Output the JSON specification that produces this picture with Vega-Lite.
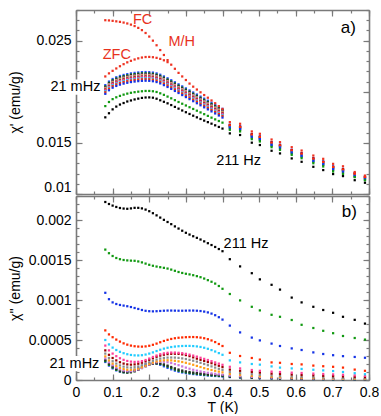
{
"$schema":"https://vega.github.io/schema/vega-lite/v6.json",
"background":"white",
"padding":{"left":8,"top":9,"right":0,"bottom":0},
"spacing":0,
"config":{"view":{"stroke":null},"font":"Liberation Sans",
"axis":{"grid":false,"domainColor":"#7a7a7a","domainWidth":1.6,"tickColor":"#7a7a7a","tickWidth":1.2,"labelFont":"Liberation Sans","labelFontSize":14,"labelColor":"#000","labelFlush":false,"labelOverlap":false,"titleFont":"Liberation Sans","titleFontSize":14,"titleFontWeight":"normal","titleColor":"#000"},
"text":{"font":"Liberation Sans"}},
"datasets":{
"A":[
{"T":0.08,"c1":0.01750,"c2":0.01860,"c3":0.01980,"c4":0.01995,"c5":0.02005,"c6":0.02015,"c7":0.02020,"c8":0.02027,"c9":0.02032,"c10":0.02038,"c11":0.02045,"c12":0.02053,"c13":0.02065,"fc":0.02700,"zfc":0.02150},
{"T":0.09,"c1":0.01790,"c2":0.01900,"c3":0.02015,"c4":0.02030,"c5":0.02040,"c6":0.02050,"c7":0.02055,"c8":0.02062,"c9":0.02067,"c10":0.02073,"c11":0.02080,"c12":0.02088,"c13":0.02100,"fc":0.02698,"zfc":0.02180},
{"T":0.10,"c1":0.01828,"c2":0.01928,"c3":0.02040,"c4":0.02055,"c5":0.02065,"c6":0.02075,"c7":0.02080,"c8":0.02087,"c9":0.02092,"c10":0.02098,"c11":0.02105,"c12":0.02113,"c13":0.02125,"fc":0.02694,"zfc":0.02205},
{"T":0.11,"c1":0.01855,"c2":0.01946,"c3":0.02057,"c4":0.02072,"c5":0.02082,"c6":0.02092,"c7":0.02097,"c8":0.02104,"c9":0.02109,"c10":0.02115,"c11":0.02122,"c12":0.02130,"c13":0.02142,"fc":0.02689,"zfc":0.02228},
{"T":0.12,"c1":0.01875,"c2":0.01960,"c3":0.02070,"c4":0.02085,"c5":0.02095,"c6":0.02105,"c7":0.02110,"c8":0.02117,"c9":0.02122,"c10":0.02128,"c11":0.02135,"c12":0.02143,"c13":0.02155,"fc":0.02684,"zfc":0.02250},
{"T":0.13,"c1":0.01890,"c2":0.01972,"c3":0.02080,"c4":0.02095,"c5":0.02105,"c6":0.02115,"c7":0.02120,"c8":0.02127,"c9":0.02132,"c10":0.02138,"c11":0.02145,"c12":0.02153,"c13":0.02165,"fc":0.02677,"zfc":0.02270},
{"T":0.14,"c1":0.01905,"c2":0.01982,"c3":0.02088,"c4":0.02103,"c5":0.02113,"c6":0.02123,"c7":0.02128,"c8":0.02135,"c9":0.02140,"c10":0.02146,"c11":0.02153,"c12":0.02161,"c13":0.02173,"fc":0.02668,"zfc":0.02288},
{"T":0.15,"c1":0.01915,"c2":0.01990,"c3":0.02095,"c4":0.02110,"c5":0.02120,"c6":0.02130,"c7":0.02135,"c8":0.02142,"c9":0.02147,"c10":0.02153,"c11":0.02160,"c12":0.02168,"c13":0.02180,"fc":0.02657,"zfc":0.02303},
{"T":0.16,"c1":0.01925,"c2":0.01996,"c3":0.02100,"c4":0.02115,"c5":0.02125,"c6":0.02135,"c7":0.02140,"c8":0.02147,"c9":0.02152,"c10":0.02158,"c11":0.02165,"c12":0.02173,"c13":0.02185,"fc":0.02643,"zfc":0.02316},
{"T":0.17,"c1":0.01933,"c2":0.02001,"c3":0.02104,"c4":0.02119,"c5":0.02129,"c6":0.02139,"c7":0.02144,"c8":0.02151,"c9":0.02156,"c10":0.02162,"c11":0.02169,"c12":0.02177,"c13":0.02189,"fc":0.02625,"zfc":0.02327},
{"T":0.18,"c1":0.01940,"c2":0.02005,"c3":0.02107,"c4":0.02122,"c5":0.02132,"c6":0.02142,"c7":0.02147,"c8":0.02154,"c9":0.02159,"c10":0.02165,"c11":0.02172,"c12":0.02180,"c13":0.02192,"fc":0.02603,"zfc":0.02335},
{"T":0.19,"c1":0.01944,"c2":0.02008,"c3":0.02108,"c4":0.02123,"c5":0.02133,"c6":0.02143,"c7":0.02148,"c8":0.02155,"c9":0.02160,"c10":0.02166,"c11":0.02173,"c12":0.02181,"c13":0.02193,"fc":0.02575,"zfc":0.02340},
{"T":0.20,"c1":0.01945,"c2":0.02008,"c3":0.02107,"c4":0.02122,"c5":0.02132,"c6":0.02142,"c7":0.02147,"c8":0.02154,"c9":0.02159,"c10":0.02165,"c11":0.02172,"c12":0.02180,"c13":0.02192,"fc":0.02540,"zfc":0.02341},
{"T":0.21,"c1":0.01942,"c2":0.02005,"c3":0.02103,"c4":0.02118,"c5":0.02128,"c6":0.02138,"c7":0.02143,"c8":0.02150,"c9":0.02155,"c10":0.02161,"c11":0.02168,"c12":0.02176,"c13":0.02188,"fc":0.02500,"zfc":0.02338},
{"T":0.22,"c1":0.01932,"c2":0.01998,"c3":0.02095,"c4":0.02110,"c5":0.02120,"c6":0.02130,"c7":0.02135,"c8":0.02142,"c9":0.02147,"c10":0.02153,"c11":0.02160,"c12":0.02168,"c13":0.02180,"fc":0.02455,"zfc":0.02332},
{"T":0.23,"c1":0.01917,"c2":0.01985,"c3":0.02082,"c4":0.02097,"c5":0.02107,"c6":0.02117,"c7":0.02122,"c8":0.02129,"c9":0.02134,"c10":0.02140,"c11":0.02147,"c12":0.02155,"c13":0.02167,"fc":0.02408,"zfc":0.02322},
{"T":0.24,"c1":0.01902,"c2":0.01970,"c3":0.02065,"c4":0.02080,"c5":0.02090,"c6":0.02100,"c7":0.02105,"c8":0.02112,"c9":0.02117,"c10":0.02123,"c11":0.02130,"c12":0.02138,"c13":0.02150,"fc":0.02360,"zfc":0.02308},
{"T":0.25,"c1":0.01887,"c2":0.01953,"c3":0.02047,"c4":0.02062,"c5":0.02072,"c6":0.02082,"c7":0.02087,"c8":0.02094,"c9":0.02099,"c10":0.02105,"c11":0.02112,"c12":0.02120,"c13":0.02132,"fc":0.02310,"zfc":0.02290},
{"T":0.26,"c1":0.01870,"c2":0.01936,"c3":0.02028,"c4":0.02043,"c5":0.02053,"c6":0.02063,"c7":0.02068,"c8":0.02075,"c9":0.02080,"c10":0.02086,"c11":0.02093,"c12":0.02101,"c13":0.02113,"fc":0.02265},
{"T":0.27,"c1":0.01852,"c2":0.01918,"c3":0.02008,"c4":0.02023,"c5":0.02033,"c6":0.02043,"c7":0.02048,"c8":0.02055,"c9":0.02060,"c10":0.02066,"c11":0.02073,"c12":0.02081,"c13":0.02093,"fc":0.02225},
{"T":0.28,"c1":0.01835,"c2":0.01900,"c3":0.01988,"c4":0.02003,"c5":0.02013,"c6":0.02023,"c7":0.02028,"c8":0.02035,"c9":0.02040,"c10":0.02046,"c11":0.02053,"c12":0.02061,"c13":0.02073,"fc":0.02185},
{"T":0.29,"c1":0.01817,"c2":0.01883,"c3":0.01968,"c4":0.01983,"c5":0.01993,"c6":0.02003,"c7":0.02008,"c8":0.02015,"c9":0.02020,"c10":0.02026,"c11":0.02033,"c12":0.02041,"c13":0.02053,"fc":0.02150},
{"T":0.30,"c1":0.01800,"c2":0.01866,"c3":0.01948,"c4":0.01963,"c5":0.01973,"c6":0.01983,"c7":0.01988,"c8":0.01995,"c9":0.02000,"c10":0.02006,"c11":0.02013,"c12":0.02021,"c13":0.02033,"fc":0.02115},
{"T":0.31,"c1":0.01783,"c2":0.01849,"c3":0.01928,"c4":0.01943,"c5":0.01953,"c6":0.01963,"c7":0.01968,"c8":0.01975,"c9":0.01980,"c10":0.01986,"c11":0.01993,"c12":0.02001,"c13":0.02013,"fc":0.02080},
{"T":0.32,"c1":0.01766,"c2":0.01832,"c3":0.01908,"c4":0.01923,"c5":0.01933,"c6":0.01943,"c7":0.01948,"c8":0.01955,"c9":0.01960,"c10":0.01966,"c11":0.01973,"c12":0.01981,"c13":0.01993,"fc":0.02050},
{"T":0.33,"c1":0.01750,"c2":0.01815,"c3":0.01888,"c4":0.01903,"c5":0.01913,"c6":0.01923,"c7":0.01928,"c8":0.01935,"c9":0.01940,"c10":0.01946,"c11":0.01953,"c12":0.01961,"c13":0.01973,"fc":0.02022},
{"T":0.34,"c1":0.01734,"c2":0.01798,"c3":0.01868,"c4":0.01883,"c5":0.01893,"c6":0.01903,"c7":0.01908,"c8":0.01915,"c9":0.01920,"c10":0.01926,"c11":0.01933,"c12":0.01941,"c13":0.01953,"fc":0.01995},
{"T":0.35,"c1":0.01718,"c2":0.01781,"c3":0.01848,"c4":0.01863,"c5":0.01873,"c6":0.01883,"c7":0.01888,"c8":0.01895,"c9":0.01900,"c10":0.01906,"c11":0.01913,"c12":0.01921,"c13":0.01933,"fc":0.01968},
{"T":0.36,"c1":0.01703,"c2":0.01764,"c3":0.01828,"c4":0.01843,"c5":0.01853,"c6":0.01863,"c7":0.01868,"c8":0.01875,"c9":0.01880,"c10":0.01886,"c11":0.01893,"c12":0.01901,"c13":0.01913,"fc":0.01942},
{"T":0.37,"c1":0.01688,"c2":0.01747,"c3":0.01808,"c4":0.01823,"c5":0.01833,"c6":0.01843,"c7":0.01848,"c8":0.01855,"c9":0.01860,"c10":0.01866,"c11":0.01873,"c12":0.01881,"c13":0.01893,"fc":0.01915},
{"T":0.38,"c1":0.01672,"c2":0.01730,"c3":0.01788,"c4":0.01803,"c5":0.01813,"c6":0.01823,"c7":0.01828,"c8":0.01835,"c9":0.01840,"c10":0.01846,"c11":0.01853,"c12":0.01861,"c13":0.01873,"fc":0.01888},
{"T":0.39,"c1":0.01656,"c2":0.01714,"c3":0.01768,"c4":0.01783,"c5":0.01793,"c6":0.01803,"c7":0.01808,"c8":0.01815,"c9":0.01820,"c10":0.01826,"c11":0.01833,"c12":0.01841,"c13":0.01853,"fc":0.01860},
{"T":0.40,"c1":0.01640,"c2":0.01698,"c3":0.01748,"c4":0.01763,"c5":0.01773,"c6":0.01783,"c7":0.01788,"c8":0.01795,"c9":0.01800,"c10":0.01806,"c11":0.01813,"c12":0.01821,"c13":0.01833,"fc":0.01832},
{"T":0.42,"c1":0.01593,"c2":0.01628,"c3":0.01651,"c4":0.01671,"c5":0.01658,"c6":0.01666,"c7":0.01675,"c8":0.01669,"c9":0.01663,"c10":0.01673,"c11":0.01665,"c12":0.01643,"c13":0.01678,"fc":0.01703},
{"T":0.448,"c1":0.01577,"c2":0.01612,"c3":0.01635,"c4":0.01655,"c5":0.01642,"c6":0.01650,"c7":0.01659,"c8":0.01653,"c9":0.01647,"c10":0.01657,"c11":0.01649,"c12":0.01627,"c13":0.01662,"fc":0.01687},
{"T":0.48,"c1":0.01502,"c2":0.01537,"c3":0.01560,"c4":0.01580,"c5":0.01567,"c6":0.01575,"c7":0.01584,"c8":0.01578,"c9":0.01572,"c10":0.01582,"c11":0.01574,"c12":0.01552,"c13":0.01587,"fc":0.01612},
{"T":0.502,"c1":0.01479,"c2":0.01514,"c3":0.01537,"c4":0.01557,"c5":0.01544,"c6":0.01552,"c7":0.01561,"c8":0.01555,"c9":0.01549,"c10":0.01559,"c11":0.01551,"c12":0.01529,"c13":0.01564,"fc":0.01589},
{"T":0.534,"c1":0.01423,"c2":0.01458,"c3":0.01481,"c4":0.01501,"c5":0.01488,"c6":0.01496,"c7":0.01505,"c8":0.01499,"c9":0.01493,"c10":0.01503,"c11":0.01495,"c12":0.01473,"c13":0.01508,"fc":0.01533},
{"T":0.557,"c1":0.01397,"c2":0.01432,"c3":0.01455,"c4":0.01475,"c5":0.01462,"c6":0.01470,"c7":0.01479,"c8":0.01473,"c9":0.01467,"c10":0.01477,"c11":0.01469,"c12":0.01447,"c13":0.01482,"fc":0.01507},
{"T":0.589,"c1":0.01348,"c2":0.01383,"c3":0.01406,"c4":0.01426,"c5":0.01413,"c6":0.01421,"c7":0.01430,"c8":0.01424,"c9":0.01418,"c10":0.01428,"c11":0.01420,"c12":0.01398,"c13":0.01433,"fc":0.01458},
{"T":0.616,"c1":0.01315,"c2":0.01350,"c3":0.01373,"c4":0.01393,"c5":0.01380,"c6":0.01388,"c7":0.01397,"c8":0.01391,"c9":0.01385,"c10":0.01395,"c11":0.01387,"c12":0.01365,"c13":0.01400,"fc":0.01425},
{"T":0.648,"c1":0.01266,"c2":0.01301,"c3":0.01324,"c4":0.01344,"c5":0.01331,"c6":0.01339,"c7":0.01348,"c8":0.01342,"c9":0.01336,"c10":0.01346,"c11":0.01338,"c12":0.01316,"c13":0.01351,"fc":0.01376},
{"T":0.675,"c1":0.01234,"c2":0.01269,"c3":0.01292,"c4":0.01312,"c5":0.01299,"c6":0.01307,"c7":0.01316,"c8":0.01310,"c9":0.01304,"c10":0.01314,"c11":0.01306,"c12":0.01284,"c13":0.01319,"fc":0.01344},
{"T":0.702,"c1":0.01195,"c2":0.01220,"c3":0.01243,"c4":0.01263,"c5":0.01250,"c6":0.01258,"c7":0.01267,"c8":0.01261,"c9":0.01255,"c10":0.01265,"c11":0.01257,"c12":0.01235,"c13":0.01270,"fc":0.01295},
{"T":0.729,"c1":0.01175,"c2":0.01196,"c3":0.01219,"c4":0.01239,"c5":0.01226,"c6":0.01234,"c7":0.01243,"c8":0.01237,"c9":0.01231,"c10":0.01241,"c11":0.01233,"c12":0.01211,"c13":0.01246,"fc":0.01271},
{"T":0.761,"c1":0.01135,"c2":0.01165,"c3":0.01177,"c4":0.01197,"c5":0.01184,"c6":0.01192,"c7":0.01201,"c8":0.01195,"c9":0.01189,"c10":0.01199,"c11":0.01191,"c12":0.01169,"c13":0.01204,"fc":0.01215},
{"T":0.789,"c1":0.01110,"c2":0.01135,"c3":0.01145,"c4":0.01165,"c5":0.01152,"c6":0.01160,"c7":0.01169,"c8":0.01163,"c9":0.01157,"c10":0.01167,"c11":0.01159,"c12":0.01137,"c13":0.01172,"fc":0.01180}
],
"B":[
{"T":0.08,"c1":0.002225,"c2":0.001630,"c3":0.001090,"c4":0.000620,"c5":0.000500,"c6":0.000430,"c7":0.000370,"c8":0.000330,"c9":0.000295,"c10":0.000270,"c11":0.000250,"c12":0.000235,"c13":0.000225},
{"T":0.09,"c1":0.002200,"c2":0.001585,"c3":0.001010,"c4":0.000570,"c5":0.000445,"c6":0.000370,"c7":0.000315,"c8":0.000275,"c9":0.000245,"c10":0.000222,"c11":0.000205,"c12":0.000190,"c13":0.000180},
{"T":0.10,"c1":0.002180,"c2":0.001550,"c3":0.000970,"c4":0.000535,"c5":0.000405,"c6":0.000330,"c7":0.000275,"c8":0.000235,"c9":0.000205,"c10":0.000185,"c11":0.000168,"c12":0.000155,"c13":0.000145},
{"T":0.11,"c1":0.002163,"c2":0.001525,"c3":0.000950,"c4":0.000505,"c5":0.000375,"c6":0.000298,"c7":0.000245,"c8":0.000205,"c9":0.000175,"c10":0.000155,"c11":0.000138,"c12":0.000127,"c13":0.000120},
{"T":0.12,"c1":0.002150,"c2":0.001510,"c3":0.000938,"c4":0.000480,"c5":0.000352,"c6":0.000272,"c7":0.000222,"c8":0.000182,"c9":0.000152,"c10":0.000133,"c11":0.000117,"c12":0.000108,"c13":0.000104},
{"T":0.13,"c1":0.002143,"c2":0.001500,"c3":0.000930,"c4":0.000458,"c5":0.000335,"c6":0.000252,"c7":0.000205,"c8":0.000167,"c9":0.000137,"c10":0.000118,"c11":0.000103,"c12":0.000096,"c13":0.000096},
{"T":0.14,"c1":0.002140,"c2":0.001495,"c3":0.000922,"c4":0.000442,"c5":0.000322,"c6":0.000238,"c7":0.000195,"c8":0.000158,"c9":0.000128,"c10":0.000110,"c11":0.000097,"c12":0.000092,"c13":0.000097},
{"T":0.15,"c1":0.002145,"c2":0.001492,"c3":0.000912,"c4":0.000430,"c5":0.000313,"c6":0.000230,"c7":0.000192,"c8":0.000155,"c9":0.000126,"c10":0.000110,"c11":0.000099,"c12":0.000097,"c13":0.000108},
{"T":0.16,"c1":0.002152,"c2":0.001490,"c3":0.000900,"c4":0.000422,"c5":0.000308,"c6":0.000226,"c7":0.000195,"c8":0.000160,"c9":0.000131,"c10":0.000117,"c11":0.000110,"c12":0.000110,"c13":0.000127},
{"T":0.17,"c1":0.002152,"c2":0.001482,"c3":0.000888,"c4":0.000418,"c5":0.000307,"c6":0.000228,"c7":0.000203,"c8":0.000170,"c9":0.000143,"c10":0.000131,"c11":0.000128,"c12":0.000130,"c13":0.000152},
{"T":0.18,"c1":0.002145,"c2":0.001470,"c3":0.000875,"c4":0.000417,"c5":0.000310,"c6":0.000236,"c7":0.000216,"c8":0.000185,"c9":0.000160,"c10":0.000150,"c11":0.000150,"c12":0.000153,"c13":0.000178},
{"T":0.19,"c1":0.002130,"c2":0.001455,"c3":0.000865,"c4":0.000420,"c5":0.000318,"c6":0.000250,"c7":0.000233,"c8":0.000203,"c9":0.000180,"c10":0.000171,"c11":0.000172,"c12":0.000176,"c13":0.000198},
{"T":0.20,"c1":0.002110,"c2":0.001440,"c3":0.000860,"c4":0.000428,"c5":0.000330,"c6":0.000268,"c7":0.000252,"c8":0.000222,"c9":0.000200,"c10":0.000192,"c11":0.000190,"c12":0.000194,"c13":0.000210},
{"T":0.21,"c1":0.002085,"c2":0.001428,"c3":0.000858,"c4":0.000440,"c5":0.000345,"c6":0.000288,"c7":0.000272,"c8":0.000240,"c9":0.000218,"c10":0.000210,"c11":0.000203,"c12":0.000205,"c13":0.000212},
{"T":0.22,"c1":0.002058,"c2":0.001418,"c3":0.000860,"c4":0.000455,"c5":0.000362,"c6":0.000306,"c7":0.000290,"c8":0.000256,"c9":0.000232,"c10":0.000222,"c11":0.000208,"c12":0.000207,"c13":0.000205},
{"T":0.23,"c1":0.002030,"c2":0.001410,"c3":0.000863,"c4":0.000472,"c5":0.000378,"c6":0.000322,"c7":0.000305,"c8":0.000268,"c9":0.000241,"c10":0.000228,"c11":0.000205,"c12":0.000200,"c13":0.000190},
{"T":0.24,"c1":0.002002,"c2":0.001402,"c3":0.000866,"c4":0.000488,"c5":0.000392,"c6":0.000333,"c7":0.000316,"c8":0.000276,"c9":0.000246,"c10":0.000228,"c11":0.000195,"c12":0.000186,"c13":0.000171},
{"T":0.25,"c1":0.001975,"c2":0.001393,"c3":0.000868,"c4":0.000502,"c5":0.000403,"c6":0.000340,"c7":0.000323,"c8":0.000280,"c9":0.000247,"c10":0.000222,"c11":0.000180,"c12":0.000168,"c13":0.000151},
{"T":0.26,"c1":0.001948,"c2":0.001380,"c3":0.000868,"c4":0.000513,"c5":0.000412,"c6":0.000343,"c7":0.000327,"c8":0.000281,"c9":0.000245,"c10":0.000212,"c11":0.000163,"c12":0.000149,"c13":0.000133},
{"T":0.27,"c1":0.001920,"c2":0.001365,"c3":0.000867,"c4":0.000522,"c5":0.000418,"c6":0.000343,"c7":0.000328,"c8":0.000280,"c9":0.000240,"c10":0.000199,"c11":0.000146,"c12":0.000131,"c13":0.000117},
{"T":0.28,"c1":0.001893,"c2":0.001350,"c3":0.000866,"c4":0.000528,"c5":0.000422,"c6":0.000340,"c7":0.000326,"c8":0.000276,"c9":0.000233,"c10":0.000185,"c11":0.000131,"c12":0.000116,"c13":0.000104},
{"T":0.29,"c1":0.001866,"c2":0.001338,"c3":0.000866,"c4":0.000532,"c5":0.000425,"c6":0.000335,"c7":0.000320,"c8":0.000270,"c9":0.000225,"c10":0.000170,"c11":0.000118,"c12":0.000104,"c13":0.000094},
{"T":0.30,"c1":0.001840,"c2":0.001328,"c3":0.000867,"c4":0.000535,"c5":0.000426,"c6":0.000327,"c7":0.000311,"c8":0.000262,"c9":0.000215,"c10":0.000155,"c11":0.000108,"c12":0.000095,"c13":0.000086},
{"T":0.31,"c1":0.001818,"c2":0.001320,"c3":0.000868,"c4":0.000537,"c5":0.000426,"c6":0.000317,"c7":0.000298,"c8":0.000252,"c9":0.000203,"c10":0.000141,"c11":0.000100,"c12":0.000088,"c13":0.000080},
{"T":0.32,"c1":0.001797,"c2":0.001310,"c3":0.000868,"c4":0.000537,"c5":0.000424,"c6":0.000305,"c7":0.000283,"c8":0.000241,"c9":0.000190,"c10":0.000128,"c11":0.000093,"c12":0.000082,"c13":0.000074},
{"T":0.33,"c1":0.001777,"c2":0.001298,"c3":0.000866,"c4":0.000535,"c5":0.000420,"c6":0.000292,"c7":0.000267,"c8":0.000229,"c9":0.000176,"c10":0.000117,"c11":0.000087,"c12":0.000076,"c13":0.000069},
{"T":0.34,"c1":0.001756,"c2":0.001285,"c3":0.000862,"c4":0.000530,"c5":0.000413,"c6":0.000278,"c7":0.000252,"c8":0.000215,"c9":0.000162,"c10":0.000107,"c11":0.000082,"c12":0.000071,"c13":0.000064},
{"T":0.35,"c1":0.001733,"c2":0.001268,"c3":0.000855,"c4":0.000522,"c5":0.000403,"c6":0.000264,"c7":0.000238,"c8":0.000200,"c9":0.000148,"c10":0.000098,"c11":0.000077,"c12":0.000066,"c13":0.000060},
{"T":0.36,"c1":0.001710,"c2":0.001248,"c3":0.000845,"c4":0.000510,"c5":0.000390,"c6":0.000250,"c7":0.000224,"c8":0.000185,"c9":0.000136,"c10":0.000090,"c11":0.000072,"c12":0.000062,"c13":0.000056},
{"T":0.37,"c1":0.001687,"c2":0.001228,"c3":0.000830,"c4":0.000494,"c5":0.000374,"c6":0.000235,"c7":0.000210,"c8":0.000170,"c9":0.000125,"c10":0.000083,"c11":0.000068,"c12":0.000058,"c13":0.000053},
{"T":0.38,"c1":0.001663,"c2":0.001205,"c3":0.000810,"c4":0.000474,"c5":0.000356,"c6":0.000220,"c7":0.000194,"c8":0.000155,"c9":0.000115,"c10":0.000077,"c11":0.000064,"c12":0.000055,"c13":0.000050},
{"T":0.39,"c1":0.001637,"c2":0.001175,"c3":0.000785,"c4":0.000450,"c5":0.000336,"c6":0.000205,"c7":0.000178,"c8":0.000140,"c9":0.000105,"c10":0.000071,"c11":0.000060,"c12":0.000052,"c13":0.000047},
{"T":0.40,"c1":0.001610,"c2":0.001140,"c3":0.000755,"c4":0.000425,"c5":0.000315,"c6":0.000190,"c7":0.000162,"c8":0.000127,"c9":0.000096,"c10":0.000066,"c11":0.000057,"c12":0.000049,"c13":0.000044},
{"T":0.42,"c1":0.001510,"c2":0.001075,"c3":0.000680,"c4":0.000340,"c5":0.000245,"c6":0.000165,"c7":0.000130,"c8":0.000100,"c9":0.000075,"c10":0.000055,"c11":0.000045,"c12":0.000040,"c13":0.000036},
{"T":0.448,"c1":0.001420,"c2":0.000995,"c3":0.000595,"c4":0.000300,"c5":0.000220,"c6":0.000145,"c7":0.000115,"c8":0.000085,"c9":0.000062,"c10":0.000046,"c11":0.000038,"c12":0.000033,"c13":0.000030},
{"T":0.48,"c1":0.001335,"c2":0.000915,"c3":0.000530,"c4":0.000275,"c5":0.000200,"c6":0.000125,"c7":0.000100,"c8":0.000072,"c9":0.000052,"c10":0.000038,"c11":0.000032,"c12":0.000028,"c13":0.000025},
{"T":0.502,"c1":0.001258,"c2":0.000870,"c3":0.000495,"c4":0.000255,"c5":0.000192,"c6":0.000115,"c7":0.000092,"c8":0.000065,"c9":0.000046,"c10":0.000034,"c11":0.000028,"c12":0.000025,"c13":0.000022},
{"T":0.534,"c1":0.001190,"c2":0.000815,"c3":0.000455,"c4":0.000220,"c5":0.000170,"c6":0.000105,"c7":0.000080,"c8":0.000056,"c9":0.000040,"c10":0.000029,"c11":0.000024,"c12":0.000021,"c13":0.000019},
{"T":0.557,"c1":0.001130,"c2":0.000790,"c3":0.000425,"c4":0.000215,"c5":0.000155,"c6":0.000100,"c7":0.000075,"c8":0.000050,"c9":0.000035,"c10":0.000026,"c11":0.000021,"c12":0.000019,"c13":0.000017},
{"T":0.589,"c1":0.001030,"c2":0.000750,"c3":0.000395,"c4":0.000200,"c5":0.000145,"c6":0.000092,"c7":0.000068,"c8":0.000044,"c9":0.000030,"c10":0.000022,"c11":0.000018,"c12":0.000016,"c13":0.000014},
{"T":0.616,"c1":0.000970,"c2":0.000690,"c3":0.000375,"c4":0.000195,"c5":0.000138,"c6":0.000088,"c7":0.000062,"c8":0.000040,"c9":0.000027,"c10":0.000020,"c11":0.000016,"c12":0.000014,"c13":0.000012},
{"T":0.648,"c1":0.000915,"c2":0.000650,"c3":0.000345,"c4":0.000180,"c5":0.000128,"c6":0.000080,"c7":0.000058,"c8":0.000035,"c9":0.000024,"c10":0.000018,"c11":0.000014,"c12":0.000012,"c13":0.000011},
{"T":0.675,"c1":0.000875,"c2":0.000615,"c3":0.000325,"c4":0.000172,"c5":0.000120,"c6":0.000075,"c7":0.000052,"c8":0.000032,"c9":0.000021,"c10":0.000016,"c11":0.000012,"c12":0.000011,"c13":0.000010},
{"T":0.702,"c1":0.000840,"c2":0.000585,"c3":0.000310,"c4":0.000165,"c5":0.000112,"c6":0.000070,"c7":0.000048,"c8":0.000028,"c9":0.000019,"c10":0.000014,"c11":0.000011,"c12":0.000010,"c13":0.000009},
{"T":0.729,"c1":0.000790,"c2":0.000550,"c3":0.000298,"c4":0.000155,"c5":0.000100,"c6":0.000065,"c7":0.000044,"c8":0.000026,"c9":0.000017,"c10":0.000013,"c11":0.000010,"c12":0.000009,"c13":0.000008},
{"T":0.761,"c1":0.000752,"c2":0.000525,"c3":0.000288,"c4":0.000130,"c5":0.000085,"c6":0.000058,"c7":0.000040,"c8":0.000024,"c9":0.000015,"c10":0.000012,"c11":0.000009,"c12":0.000008,"c13":0.000007},
{"T":0.789,"c1":0.000705,"c2":0.000505,"c3":0.000278,"c4":0.000115,"c5":0.000072,"c6":0.000052,"c7":0.000036,"c8":0.000022,"c9":0.000013,"c10":0.000011,"c11":0.000008,"c12":0.000007,"c13":0.000006}
]},
"vconcat":[
{"width":293,"height":184,
"resolve":{"axis":{"x":"independent","y":"independent"}},
"layer":[
{"data":{"name":"A"},
"transform":[{"fold":["c13","c12","c11","c10","c9","c8","c7","c6","c5","c4","c3","c2","c1","zfc","fc"],"as":["s","v"]},{"filter":"isValid(datum.v)"}],
"mark":{"type":"square","size":5,"opacity":1},
"encoding":{
"x":{"field":"T","type":"quantitative","scale":{"domain":[0,0.8],"nice":false,"zero":false},"axis":{"orient":"bottom","values":[0,0.1,0.2,0.3,0.4,0.5,0.6,0.7,0.8],"labels":false,"tickSize":-6,"title":null}},
"y":{"field":"v","type":"quantitative","scale":{"domain":[0.01,0.028],"nice":false,"zero":false},"axis":{"orient":"left","values":[0.01,0.015,0.02,0.025],"format":"~g","labelExpr":"datum.value == 0.02 ? '' : datum.label","labelBaseline":{"condition":{"test":"datum.value < 0.0101","value":"bottom"},"value":"middle"},"tickSize":-6,"labelPadding":11,"title":"χ' (emu/g)","titleX":-61,"titleBaseline":"middle"}},
"color":{"field":"s","type":"nominal","legend":null,"scale":{"domain":["c1","c2","c3","c4","c5","c6","c7","c8","c9","c10","c11","c12","c13","fc","zfc"],"range":["#000000","#119911","#1533e6","#ff2a00","#22ccff","#ff3f99","#990000","#8c8c8c","#ff9f1a","#cc77dd","#2a2a2a","#0a7a0a","#2b4bff","#ee3322","#ee3322"]}}}},
{"data":{"values":[{"x1":-0.0725,"x2":0.0665,"y1":0.0197,"y2":0.0212}]},
"mark":{"type":"rect","fill":"white"},
"encoding":{
"x":{"field":"x1","type":"quantitative","scale":{"domain":[0,0.8],"nice":false,"zero":false},"axis":{"orient":"bottom","values":[0,0.05,0.1,0.15,0.2,0.25,0.3,0.35,0.4,0.45,0.5,0.55,0.6,0.65,0.7,0.75,0.8],"labels":false,"domain":false,"tickSize":-3,"title":null}},
"x2":{"field":"x2"},
"y":{"field":"y1","type":"quantitative","scale":{"domain":[0.01,0.028],"nice":false,"zero":false},"axis":{"orient":"left","values":[0.01,0.011,0.012,0.013,0.014,0.015,0.016,0.017,0.018,0.019,0.02,0.021,0.022,0.023,0.024,0.025,0.026,0.027,0.028],"labels":false,"domain":false,"tickSize":-3,"title":null}},
"y2":{"field":"y2"}}},
{"data":{"values":[{"T":-0.0016,"v":0.020471,"t":"21 mHz"},{"T":0.4439,"v":0.013265,"t":"211 Hz"}]},
"mark":{"type":"text","fontSize":14.5,"align":"center","baseline":"middle","color":"#000"},
"encoding":{
"x":{"field":"T","type":"quantitative","scale":{"domain":[0,0.8],"nice":false,"zero":false},"axis":{"orient":"top","values":[0,0.1,0.2,0.3,0.4,0.5,0.6,0.7,0.8],"labels":false,"tickSize":-6,"title":null}},
"y":{"field":"v","type":"quantitative","scale":{"domain":[0.01,0.028],"nice":false,"zero":false},"axis":{"orient":"right","values":[0.01,0.015,0.02,0.025],"labels":false,"tickSize":-6,"title":null}},
"text":{"field":"t"}}},
{"data":{"values":[{"T":0.182,"v":0.02699,"t":"FC"},{"T":0.2886,"v":0.02485,"t":"M/H"},{"T":0.1114,"v":0.02356,"t":"ZFC"}]},
"mark":{"type":"text","fontSize":14.5,"align":"center","baseline":"middle","color":"#e8321e"},
"encoding":{
"x":{"field":"T","type":"quantitative","scale":{"domain":[0,0.8],"nice":false,"zero":false},"axis":{"orient":"top","values":[0,0.05,0.1,0.15,0.2,0.25,0.3,0.35,0.4,0.45,0.5,0.55,0.6,0.65,0.7,0.75,0.8],"labels":false,"domain":false,"tickSize":-3,"title":null}},
"y":{"field":"v","type":"quantitative","scale":{"domain":[0.01,0.028],"nice":false,"zero":false},"axis":{"orient":"right","values":[0.01,0.011,0.012,0.013,0.014,0.015,0.016,0.017,0.018,0.019,0.02,0.021,0.022,0.023,0.024,0.025,0.026,0.027,0.028],"labels":false,"domain":false,"tickSize":-3,"title":null}},
"text":{"field":"t"}}},
{"data":{"values":[{"T":0.7436,"v":0.026206,"t":"a)"}]},
"mark":{"type":"text","fontSize":17,"align":"center","baseline":"middle","color":"#000"},
"encoding":{
"x":{"field":"T","type":"quantitative","scale":{"domain":[0,0.8],"nice":false,"zero":false},"axis":null},
"y":{"field":"v","type":"quantitative","scale":{"domain":[0.01,0.028],"nice":false,"zero":false},"axis":null},
"text":{"field":"t"}}}
]},
{"width":293,"height":184,
"resolve":{"axis":{"x":"independent","y":"independent"}},
"layer":[
{"data":{"name":"B"},
"transform":[{"fold":["c13","c12","c11","c10","c9","c8","c7","c6","c5","c4","c3","c2","c1"],"as":["s","v"]},{"filter":"isValid(datum.v)"}],
"mark":{"type":"square","size":5,"opacity":1},
"encoding":{
"x":{"field":"T","type":"quantitative","scale":{"domain":[0,0.8],"nice":false,"zero":false},"axis":{"orient":"bottom","values":[0,0.1,0.2,0.3,0.4,0.5,0.6,0.7,0.8],"format":"~g","tickSize":-6,"labelPadding":11,"title":"T (K)","titlePadding":1}},
"y":{"field":"v","type":"quantitative","scale":{"domain":[0,0.0023],"nice":false,"zero":false},"axis":{"orient":"left","values":[0,0.0005,0.001,0.0015,0.002],"format":"~g","tickSize":-6,"labelPadding":11,"title":"χ'' (emu/g)","titleX":-61,"titleBaseline":"middle"}},
"color":{"field":"s","type":"nominal","legend":null,"scale":{"domain":["c1","c2","c3","c4","c5","c6","c7","c8","c9","c10","c11","c12","c13"],"range":["#000000","#119911","#1533e6","#ff2a00","#22ccff","#ff3f99","#990000","#8c8c8c","#ff9f1a","#cc77dd","#2a2a2a","#0a7a0a","#2b4bff"]}}}},
{"data":{"values":[{"x1":-0.0725,"x2":0.0665,"y1":0.00011,"y2":0.0003}]},
"mark":{"type":"rect","fill":"white"},
"encoding":{
"x":{"field":"x1","type":"quantitative","scale":{"domain":[0,0.8],"nice":false,"zero":false},"axis":{"orient":"bottom","values":[0,0.05,0.1,0.15,0.2,0.25,0.3,0.35,0.4,0.45,0.5,0.55,0.6,0.65,0.7,0.75,0.8],"labels":false,"domain":false,"tickSize":-3,"title":null}},
"x2":{"field":"x2"},
"y":{"field":"y1","type":"quantitative","scale":{"domain":[0,0.0023],"nice":false,"zero":false},"axis":{"orient":"left","values":[0,0.0001,0.0002,0.0003,0.0004,0.0005,0.0006,0.0007,0.0008,0.0009,0.001,0.0011,0.0012,0.0013,0.0014,0.0015,0.0016,0.0017,0.0018,0.0019,0.002,0.0021,0.0022,0.0023],"labels":false,"domain":false,"tickSize":-3,"title":null}},
"y2":{"field":"y2"}}},
{"data":{"values":[{"T":-0.0044,"v":0.000206,"t":"21 mHz"},{"T":0.4643,"v":0.001706,"t":"211 Hz"}]},
"mark":{"type":"text","fontSize":14.5,"align":"center","baseline":"middle","color":"#000"},
"encoding":{
"x":{"field":"T","type":"quantitative","scale":{"domain":[0,0.8],"nice":false,"zero":false},"axis":{"orient":"top","values":[0,0.1,0.2,0.3,0.4,0.5,0.6,0.7,0.8],"labels":false,"tickSize":-6,"title":null}},
"y":{"field":"v","type":"quantitative","scale":{"domain":[0,0.0023],"nice":false,"zero":false},"axis":{"orient":"right","values":[0,0.0005,0.001,0.0015,0.002],"labels":false,"tickSize":-6,"title":null}},
"text":{"field":"t"}}},
{"data":{"values":[{"T":0.7463,"v":0.002094,"t":"b)"}]},
"mark":{"type":"text","fontSize":17,"align":"center","baseline":"middle","color":"#000"},
"encoding":{
"x":{"field":"T","type":"quantitative","scale":{"domain":[0,0.8],"nice":false,"zero":false},"axis":{"orient":"top","values":[0,0.05,0.1,0.15,0.2,0.25,0.3,0.35,0.4,0.45,0.5,0.55,0.6,0.65,0.7,0.75,0.8],"labels":false,"domain":false,"tickSize":-3,"title":null}},
"y":{"field":"v","type":"quantitative","scale":{"domain":[0,0.0023],"nice":false,"zero":false},"axis":{"orient":"right","values":[0,0.0001,0.0002,0.0003,0.0004,0.0005,0.0006,0.0007,0.0008,0.0009,0.001,0.0011,0.0012,0.0013,0.0014,0.0015,0.0016,0.0017,0.0018,0.0019,0.002,0.0021,0.0022,0.0023],"labels":false,"domain":false,"tickSize":-3,"title":null}},
"text":{"field":"t"}}}
]}
]}
